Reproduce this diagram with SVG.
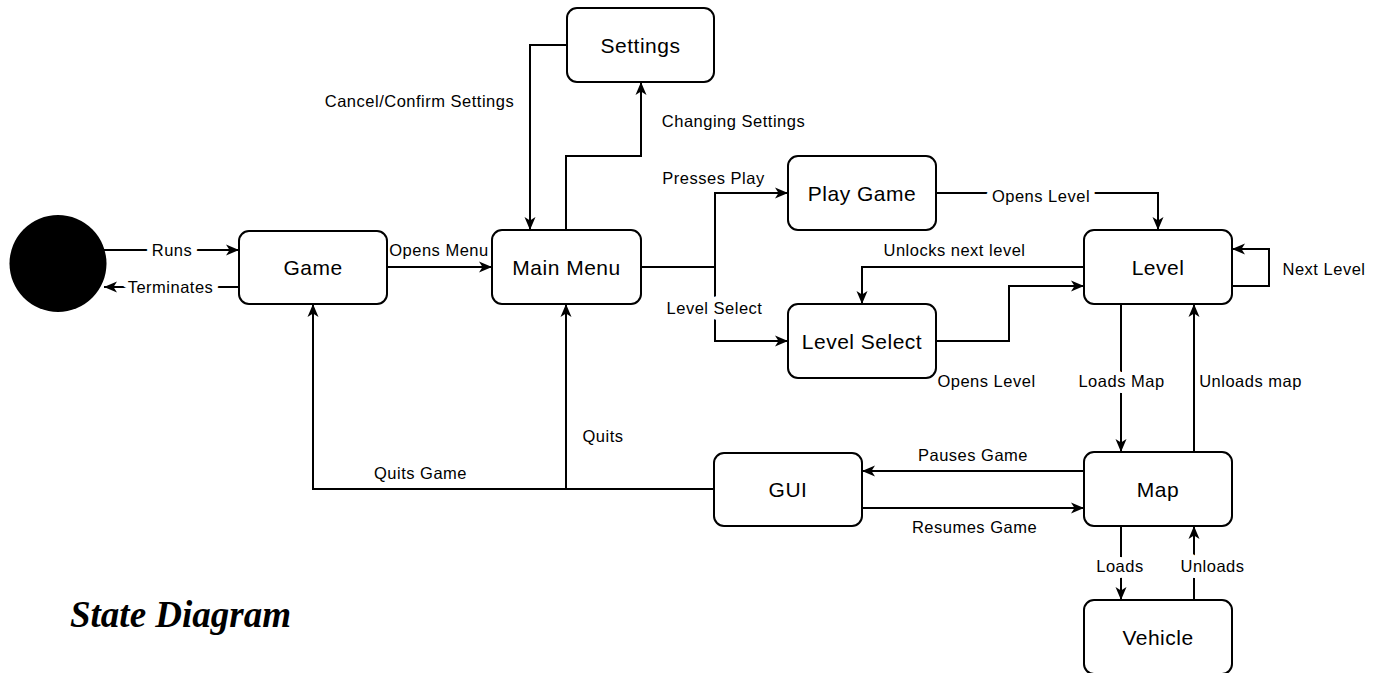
<svg xmlns="http://www.w3.org/2000/svg" width="1385" height="673" viewBox="0 0 1385 673">
<style>
.box{fill:#fff;stroke:#000;stroke-width:2}
.node{font-family:"Liberation Sans",Arial,sans-serif;font-size:21px;letter-spacing:0.5px;text-anchor:middle;fill:#000}
.lbl{font-family:"Liberation Sans",Arial,sans-serif;font-size:16.5px;letter-spacing:0.5px;text-anchor:middle;fill:#000}
.bg{stroke:#fff;stroke-width:12px;paint-order:stroke;stroke-linejoin:round}
.edge{fill:none;stroke:#000;stroke-width:2}
.title{font-family:"Liberation Serif","Times New Roman",serif;font-size:37px;font-weight:bold;font-style:italic;fill:#000}
</style>
<defs>
<marker id="arr" markerUnits="userSpaceOnUse" markerWidth="14" markerHeight="12" refX="13" refY="6" orient="auto">
<path d="M0,0.5 L13,6 L0,11.5 L3.5,6 z" fill="#000"/>
</marker>
</defs>
<g id="connectors">
<path class="edge" d="M104,250 H239" marker-end="url(#arr)"/>
<path class="edge" d="M239,287 H104" marker-end="url(#arr)"/>
<path class="edge" d="M387,267 H492" marker-end="url(#arr)"/>
<path class="edge" d="M567,45 H530 V230" marker-end="url(#arr)"/>
<path class="edge" d="M566,230 V156 H641 V82" marker-end="url(#arr)"/>
<path class="edge" d="M641,267 H715 V193 H788" marker-end="url(#arr)"/>
<path class="edge" d="M715,267 V341 H788" marker-end="url(#arr)"/>
<path class="edge" d="M936,193 H1158 V230" marker-end="url(#arr)"/>
<path class="edge" d="M1084,267 H862 V304" marker-end="url(#arr)"/>
<path class="edge" d="M936,341 H1009 V286 H1084" marker-end="url(#arr)"/>
<path class="edge" d="M1232,286 H1269 V249 H1232" marker-end="url(#arr)"/>
<path class="edge" d="M1121,304 V452" marker-end="url(#arr)"/>
<path class="edge" d="M1194,452 V304" marker-end="url(#arr)"/>
<path class="edge" d="M1084,471 H862" marker-end="url(#arr)"/>
<path class="edge" d="M862,508 H1084" marker-end="url(#arr)"/>
<path class="edge" d="M1121,526 V600" marker-end="url(#arr)"/>
<path class="edge" d="M1194,600 V526" marker-end="url(#arr)"/>
<path class="edge" d="M714,489 H313 V304" marker-end="url(#arr)"/>
<path class="edge" d="M566,489 V304" marker-end="url(#arr)"/>
<text class="lbl bg" x="172" y="256">Runs</text>
<text class="lbl bg" x="170.5" y="293">Terminates</text>
<text class="lbl" x="439" y="255.5">Opens Menu</text>
<text class="lbl" x="419.5" y="106.5">Cancel/Confirm Settings</text>
<text class="lbl" x="733.5" y="126.5">Changing Settings</text>
<text class="lbl" x="713.5" y="183.5">Presses Play</text>
<text class="lbl bg" x="714.5" y="313.5">Level Select</text>
<text class="lbl bg" x="1041" y="202">Opens Level</text>
<text class="lbl" x="954.5" y="256">Unlocks next level</text>
<text class="lbl" x="986.5" y="387">Opens Level</text>
<text class="lbl" x="1324" y="275">Next Level</text>
<text class="lbl bg" x="1121.5" y="386.5">Loads Map</text>
<text class="lbl" x="1250.5" y="386.5">Unloads map</text>
<text class="lbl" x="973" y="461">Pauses Game</text>
<text class="lbl" x="974.5" y="533">Resumes Game</text>
<text class="lbl bg" x="1120" y="571.5">Loads</text>
<text class="lbl bg" x="1212.5" y="571.5">Unloads</text>
<text class="lbl" x="420.5" y="478.5">Quits Game</text>
<text class="lbl" x="603" y="442">Quits</text>
</g>
<g id="start"><circle cx="58" cy="263.5" r="48.5" fill="#000"/></g>
<g id="game"><rect class="box" x="239" y="231" width="148" height="73" rx="10"/><text class="node" x="313" y="275">Game</text></g>
<g id="main-menu"><rect class="box" x="492" y="230" width="149" height="74" rx="10"/><text class="node" x="566.5" y="275">Main Menu</text></g>
<g id="settings"><rect class="box" x="567" y="8" width="147" height="74" rx="10"/><text class="node" x="640.5" y="53">Settings</text></g>
<g id="play-game"><rect class="box" x="788" y="156" width="148" height="74" rx="10"/><text class="node" x="862" y="201">Play Game</text></g>
<g id="level-select"><rect class="box" x="788" y="304" width="148" height="74" rx="10"/><text class="node" x="862" y="349">Level Select</text></g>
<g id="level"><rect class="box" x="1084" y="230" width="148" height="74" rx="10"/><text class="node" x="1158" y="275">Level</text></g>
<g id="gui"><rect class="box" x="714" y="453" width="148" height="73" rx="10"/><text class="node" x="788" y="497">GUI</text></g>
<g id="map"><rect class="box" x="1084" y="452" width="148" height="74" rx="10"/><text class="node" x="1158" y="497">Map</text></g>
<g id="vehicle"><rect class="box" x="1084" y="600" width="148" height="74" rx="10"/><text class="node" x="1158" y="645">Vehicle</text></g>
<text class="title" x="70" y="627">State Diagram</text>
</svg>
